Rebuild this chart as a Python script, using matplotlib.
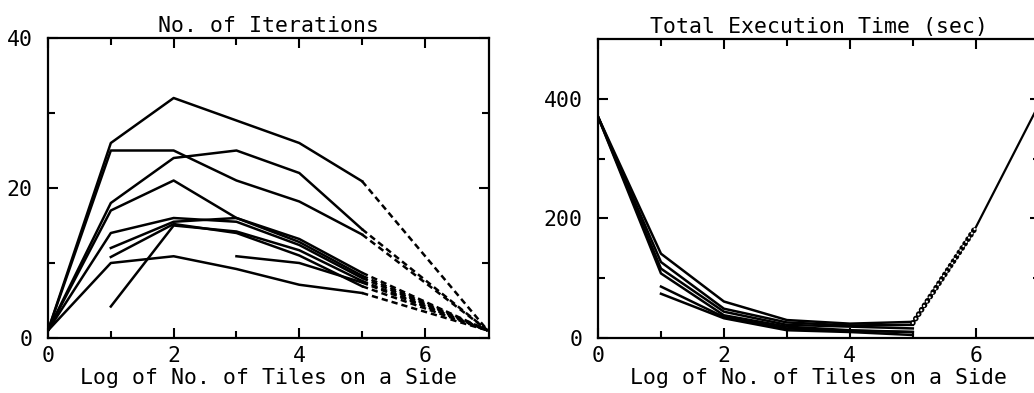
import numpy as np
import matplotlib
matplotlib.use("Agg")
import matplotlib.pyplot as plt

# ---------------- data ----------------
x_left = [0, 1, 2, 3, 4, 5]
x_end = 7
end_iter = 1.0
nan = np.nan
iter_series = [
    [1, 26, 32, 29, 26, 20.9],
    [1, 25, 25, 21, 18.2, 13.8],
    [1, 18, 24, 25, 22, 14.5],
    [1, 17, 21, 16, 13.2, 8.7],
    [1, 14, 16, 15.5, 12.4, 8.0],
    [1, 10, 10.9, 9.2, 7.1, 6.0],
    [nan, 4.2, 15, 14.2, 11.7, 7.6],
    [nan, 12, 15.5, 16, 12.8, 8.3],
    [nan, 10.8, 15.2, 14, 11, 6.9],
    [nan, nan, nan, 10.9, 10, 7.4],
]

x_right = [0, 1, 2, 3, 4, 5]
time_series = [
    [370, 141, 61, 30, 24, 27],
    [370, 127, 49, 26, 21, 22],
    [370, 116, 44, 22, 19, 16],
    [370, 108, 38, 19, 13, 10],
    [nan, 86, 35, 16, 12, 10],
    [nan, 74, 33, 13, 10, 5],
]
rise_x = [5, 6, 7]
rise_y = [25, 185, 390]

title_left = "No. of Iterations"
title_right = "Total Execution Time (sec)"
xlabel = "Log of No. of Tiles on a Side"

# ---------------- style ----------------
FONT = "DejaVu Sans Mono"
FS = 15.5
LW = 1.8
plt.rcParams["font.family"] = [FONT, "DejaVu Sans"]

fig = plt.figure(figsize=(10.34, 3.93), dpi=100)
W, H = 1034.0, 393.0
ax1 = fig.add_axes([48 / W, 55 / H, 441 / W, 300 / H])
ax2 = fig.add_axes([598 / W, 55 / H, 442 / W, 299 / H])


def style_axes(ax, xlim, ylim, ymaj, ymin):
    ax.set_xlim(*xlim)
    ax.set_ylim(*ylim)
    ax.set_xticks([0, 2, 4, 6])
    ax.set_xticks([1, 3, 5], minor=True)
    ax.set_yticks(ymaj)
    ax.set_yticks(ymin, minor=True)
    ax.tick_params(which="both", direction="in", top=True, right=True,
                   width=1.5, labelsize=FS, colors="black")
    ax.tick_params(which="major", length=7)
    ax.tick_params(which="minor", length=5)
    ax.tick_params(axis="y", pad=11)
    ax.tick_params(axis="x", pad=6)
    for s in ax.spines.values():
        s.set_linewidth(1.6)
    ax.set_xlabel(xlabel, fontsize=FS, labelpad=1)


# ---- left panel ----
for ys in iter_series:
    ax1.plot(x_left, ys, color="black", lw=LW, solid_joinstyle="round")
    ax1.plot([x_left[-1], x_end], [ys[-1], end_iter], color="black", lw=LW,
             linestyle=(0, (2.5, 1.6)))
style_axes(ax1, (0, 7.02), (0, 40), [0, 20, 40], [10, 30])
ax1.set_title(title_left, fontsize=FS, pad=4)

# ---- right panel ----
for ys in time_series:
    ax2.plot(x_right, ys, color="black", lw=LW, solid_joinstyle="round")
ax2.plot(rise_x, rise_y, color="black", lw=1.6)
ax2.plot(rise_x[:2], rise_y[:2], color="black", lw=4.0,
         linestyle=(0, (0.05, 0.9)), dash_capstyle="round")
ax2.plot(rise_x[:2], rise_y[:2], color="white", lw=1.6,
         linestyle=(0, (0.05, 2.25)), dash_capstyle="round")
style_axes(ax2, (0, 7.02), (0, 500), [0, 200, 400], [100, 300])
ax2.set_title(title_right, fontsize=FS, pad=4)

fig.savefig("out.png", dpi=100)
